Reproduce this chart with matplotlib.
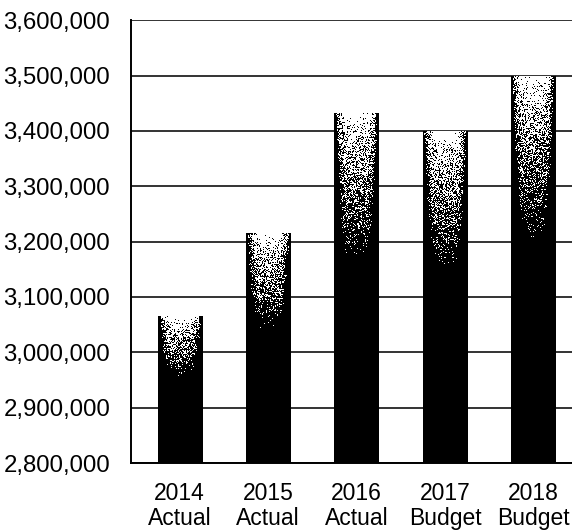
import numpy as np
import matplotlib
matplotlib.use("Agg")
import matplotlib.pyplot as plt
from matplotlib.ticker import FuncFormatter

plt.rcParams['font.family'] = ['Liberation Sans', 'DejaVu Sans']

years = ['2014', '2015', '2016', '2017', '2018']
kinds = ['Actual', 'Actual', 'Actual', 'Budget', 'Budget']
totals = [3065000, 3215000, 3432000, 3398000, 3499000]

y_min, y_max, y_step = 2800000, 3600000, 100000
bar_w = 0.5

fig = plt.figure(figsize=(5.72, 5.31), dpi=100)
ax = fig.add_axes([0.229, 0.128, 0.79, 0.834])

rng = np.random.default_rng(7)


def shaded_bar(ax, xc, top):
    # halftone-style shading: dark base fading to light at the top,
    # darker at the sides like a cylinder
    nx, ny = 45, int((top - y_min) / 1800)
    u = np.linspace(-1, 1, nx)[None, :]
    v = np.linspace(0, 1, ny)[:, None]
    dark = np.clip(1.5 - 1.5 * v ** 2.0, 0.03, 1.0)
    dark = dark + 1.2 * np.abs(u) ** 5
    dark = np.clip(dark, 0, 1)
    img = (rng.random((ny, nx)) < dark).astype(float)
    ax.imshow(1 - img, cmap='gray', vmin=0, vmax=1, origin='lower',
              extent=[xc - bar_w / 2, xc + bar_w / 2, y_min, top],
              aspect='auto', interpolation='nearest', zorder=3)


for i, t in enumerate(totals):
    shaded_bar(ax, i, t)

ax.set_xlim(-0.55, 4.557)
ax.set_ylim(y_min, y_max)
ax.set_yticks(np.arange(y_min, y_max + 1, y_step))
ax.yaxis.set_major_formatter(FuncFormatter(lambda v, p: f'{int(v):,}'))
ax.set_xticks(range(len(years)))
ax.set_xticklabels([f'{y}\n{k}' for y, k in zip(years, kinds)],
                   linespacing=1.1, fontsize=16.5)

ax.grid(axis='y', color='#333333', linewidth=1.4, zorder=1)
ax.set_axisbelow(True)
for s in ['top', 'right']:
    ax.spines[s].set_visible(False)
ax.spines['left'].set_linewidth(1.4)
ax.spines['bottom'].set_linewidth(1.4)
ax.tick_params(axis='both', length=0, colors='black')
ax.tick_params(axis='y', pad=15, labelsize=17.3)
ax.tick_params(axis='x', pad=14)

fig.savefig('out.png', dpi=100)
